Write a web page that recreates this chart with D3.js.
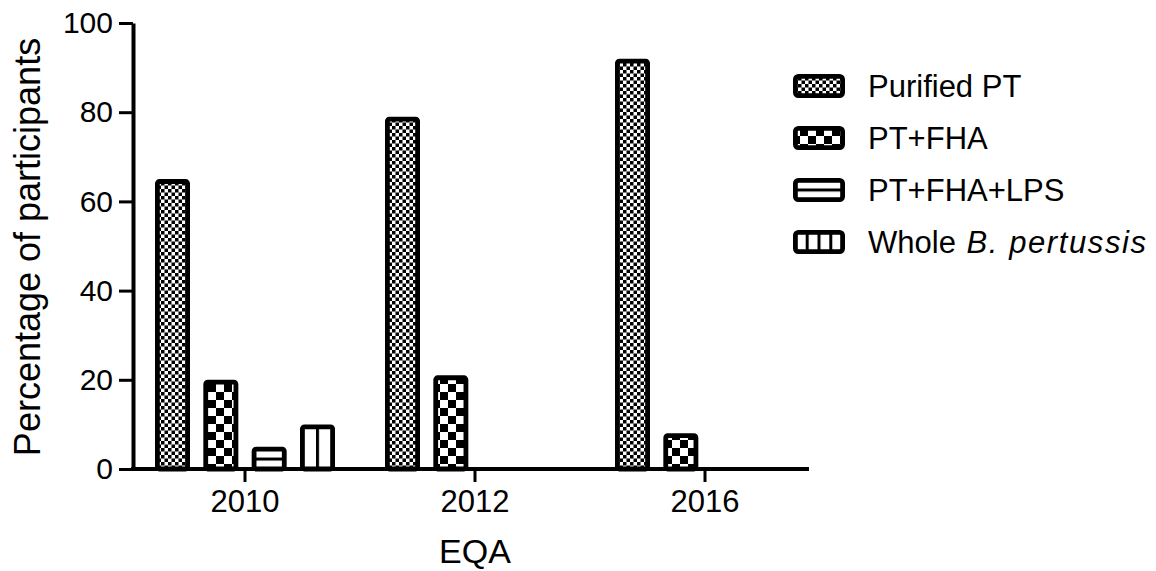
<!DOCTYPE html>
<html>
<head>
<meta charset="utf-8">
<script src="https://cdn.jsdelivr.net/npm/d3@7"></script>
<style>
  html, body { margin: 0; padding: 0; background: #fff; }
  svg { display: block; font-family: "Liberation Sans", Arial, sans-serif; }
</style>
</head>
<body>
<svg id="chart" width="1156" height="571"></svg>
<script>
// ---- data ----
const years = ["2010", "2012", "2016"];
const seriesNames = ["Purified PT", "PT+FHA", "PT+FHA+LPS", "Whole B. pertussis"];
const purifiedPT = [65, 79, 92];
const ptFha = [20, 21, 8];
const ptFhaLps = [5, 0, 0];
const wholeBp = [10, 0, 0];
const yTicks = [0, 20, 40, 60, 80, 100];
const yLabel = "Percentage of participants";
const xLabel = "EQA";

const seriesValues = [purifiedPT, ptFha, ptFhaLps, wholeBp];

// ---- layout ----
const svg = d3.select("#chart");
const defs = svg.append("defs");
const axisX = 133, axisEnd = 809;
const y = d3.scaleLinear().domain([0, 100]).range([469, 23]);
const x = d3.scaleBand().domain(years).range([130, 820]);
const x1 = d3.scaleBand().domain(seriesNames).range([-90, 90]).paddingInner(0.276);
const sw = 4.8;

// fine checker
const pf = defs.append("pattern").attr("id", "fine").attr("patternUnits", "userSpaceOnUse")
  .attr("width", 7).attr("height", 7);
pf.append("rect").attr("width", 7).attr("height", 7).attr("fill", "#fff");
pf.append("rect").attr("width", 3.5).attr("height", 3.5).attr("fill", "#000");
pf.append("rect").attr("x", 3.5).attr("y", 3.5).attr("width", 3.5).attr("height", 3.5).attr("fill", "#000");
// coarse checker
const pc = defs.append("pattern").attr("id", "coarse").attr("patternUnits", "userSpaceOnUse")
  .attr("width", 16).attr("height", 16);
pc.append("rect").attr("width", 16).attr("height", 16).attr("fill", "#fff");
pc.append("rect").attr("width", 8).attr("height", 8).attr("fill", "#000");
pc.append("rect").attr("x", 8).attr("y", 8).attr("width", 8).attr("height", 8).attr("fill", "#000");

let pid = 0;
function hatchPattern(kind, rx, ry, rw, rh, n) {
  const id = "h" + (pid++);
  const p = defs.append("pattern").attr("id", id).attr("patternUnits", "userSpaceOnUse");
  if (kind === "h") {
    const step = rh / n;
    p.attr("x", rx).attr("y", ry + step - 1.5).attr("width", rw + 10).attr("height", step);
    p.append("rect").attr("width", rw + 10).attr("height", step).attr("fill", "#fff");
    p.append("rect").attr("width", rw + 10).attr("height", 3).attr("fill", "#000");
  } else {
    const step = rw / n;
    p.attr("x", rx + step - 1.5).attr("y", ry).attr("width", step).attr("height", rh + 10);
    p.append("rect").attr("width", step).attr("height", rh + 10).attr("fill", "#fff");
    p.append("rect").attr("width", 3).attr("height", rh + 10).attr("fill", "#000");
  }
  return "url(#" + id + ")";
}

function fillFor(si, rx, ry, rw, rh, legend) {
  if (si === 0) return "url(#fine)";
  if (si === 1) return "url(#coarse)";
  if (si === 2) return hatchPattern("h", rx, ry, rw, rh, 2);
  return hatchPattern("v", rx, ry, rw, rh, legend ? 4 : 2);
}

// ---- bars ----
const barData = [];
years.forEach((yr, i) => {
  seriesNames.forEach((s, si) => {
    const v = seriesValues[si][i];
    if (v > 0) barData.push({ yr, s, si, v });
  });
});

const bars = svg.append("g").attr("class", "bars");
barData.forEach(d => {
  const ox = x(d.yr) + x.bandwidth() / 2 + x1(d.s);
  const rx = ox + sw / 2;
  const rw = x1.bandwidth() - sw;
  const ry = y(d.v) + sw / 2;
  const rh = y(0) - y(d.v) - sw / 2;
  bars.append("rect")
    .attr("x", rx).attr("y", ry).attr("width", rw).attr("height", rh)
    .attr("rx", 2)
    .attr("fill", fillFor(d.si, rx, ry, rw, rh, false))
    .attr("stroke", "#000").attr("stroke-width", sw);
});

// ---- axes ----
const yAxis = svg.append("g").attr("transform", `translate(${axisX},0)`)
  .call(d3.axisLeft(y).tickValues(yTicks).tickSize(14).tickPadding(6).tickSizeOuter(0));
yAxis.select(".domain").attr("stroke-width", 4).attr("stroke", "#000");
yAxis.selectAll(".tick line").attr("stroke-width", 3);
yAxis.selectAll(".tick text").attr("font-size", 30).attr("font-family", "Liberation Sans, Arial, sans-serif").attr("fill", "#000");

const xAxis = svg.append("g").attr("transform", `translate(0,${y(0)})`)
  .call(d3.axisBottom(x).tickSize(13).tickPadding(8).tickSizeOuter(0));
xAxis.select(".domain").attr("d", `M${axisX - 2},0H${axisEnd}`).attr("stroke-width", 4).attr("stroke", "#000");
xAxis.selectAll(".tick line").attr("stroke-width", 3);
xAxis.selectAll(".tick text").attr("font-size", 31).attr("font-family", "Liberation Sans, Arial, sans-serif").attr("fill", "#000");

// axis titles
svg.append("text")
  .attr("transform", "translate(40,247) rotate(-90)")
  .attr("text-anchor", "middle")
  .attr("font-size", 36)
  .text(yLabel);

svg.append("text")
  .attr("x", (x(years[0]) + x(years[2]) + x.bandwidth()) / 2)
  .attr("y", 563)
  .attr("text-anchor", "middle")
  .attr("font-size", 34)
  .text(xLabel);

// ---- legend ----
const legend = svg.append("g");
const legY = d3.scalePoint().domain(seriesNames).range([86, 242]);
seriesNames.forEach((s, si) => {
  const cy = legY(s);
  const lx = 793 + sw / 2, lw = 52 - sw, lh = 24 - sw, ly = cy - 12 + sw / 2;
  legend.append("rect")
    .attr("x", lx).attr("y", ly).attr("width", lw).attr("height", lh)
    .attr("rx", 3)
    .attr("fill", fillFor(si, lx, ly, lw, lh, true))
    .attr("stroke", "#000").attr("stroke-width", sw);
  const t = legend.append("text").attr("x", 868).attr("y", cy).attr("dy", "0.36em")
    .attr("font-size", 31);
  if (s === "Whole B. pertussis") {
    t.append("tspan").text("Whole ");
    t.append("tspan").attr("dx", 2).attr("font-style", "italic").attr("letter-spacing", 1.6).text("B. pertussis");
  } else {
    t.text(s);
  }
});
</script>
</body>
</html>
